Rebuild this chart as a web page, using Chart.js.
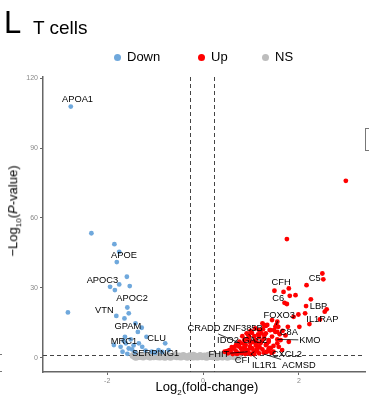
<!DOCTYPE html>
<html lang="en">
<head>
<meta charset="UTF-8">
<title>T cells volcano</title>
<script src="https://cdn.jsdelivr.net/npm/chart.js"></script>
<style>
  body { margin: 0; background: #fff; font-family: "Liberation Sans", Arial, sans-serif; }
  #wrap { position: relative; width: 369px; height: 402px; overflow: hidden; }
  #wrap canvas { position: absolute; left: 0; top: 0; }
  .txt { position: absolute; white-space: nowrap; color: #000; }
  .dot { position: absolute; width: 7px; height: 7px; border-radius: 50%; }
</style>
</head>
<body>
<div id="wrap">
  <canvas id="volcano" width="369" height="402"></canvas>
  <div class="txt" style="left:4px; top:5px; font-size:31px; line-height:36px;">L</div>
  <div class="txt" style="left:33px; top:16px; font-size:19px; line-height:24px;">T cells</div>

  <div class="dot" style="left:114px; top:54px; background:#6fa8dc;"></div>
  <div class="txt" style="left:127px; top:49px; font-size:13px; line-height:16px;">Down</div>
  <div class="dot" style="left:198px; top:54px; background:#ff0000;"></div>
  <div class="txt" style="left:211px; top:49px; font-size:13px; line-height:16px;">Up</div>
  <div class="dot" style="left:262px; top:54px; background:#bdbdbd;"></div>
  <div class="txt" style="left:275px; top:49px; font-size:13px; line-height:16px;">NS</div>

  <div class="txt" style="left:16px; top:211px; font-size:13px; line-height:16px; transform:translate(-50%,-50%) rotate(-90deg);">&minus;Log<sub style="font-size:8px;">10</sub>(<i>P</i>-value)</div>
  <div class="txt" style="left:207px; top:390px; font-size:13px; line-height:16px; transform:translate(-50%,-50%);">Log<sub style="font-size:8px;">2</sub>(fold-change)</div>

  <div style="position:absolute; left:365px; top:128px; width:10px; height:21px; border:1.5px solid #777;"></div>
  <div style="position:absolute; left:0; top:354px; width:2px; height:1px; background:#777;"></div>
  <div style="position:absolute; left:0; top:371px; width:2px; height:1px; background:#777;"></div>
</div>

<script>
// ---------------- data ----------------
const downX = [-2.76, -2.33, -1.85, -1.75, -1.80, -1.59, -1.75, -1.94, -1.84, -1.53,
               -1.58, -2.82, -1.81, -1.64, -1.55, -1.41, -1.36, -1.18, -1.28, -1.63,
               -1.51, -1.86, -1.72, -1.61, -1.55, -1.68, -1.48, -1.34, -1.27, -0.79,
               -0.93, -0.72, -1.07, -1.58, -1.42, -1.20, -1.00, -0.85, -1.45, -1.66];
const downY = [107.8, 53.4, 48.7, 45.4, 41.0, 34.7, 31.4, 30.4, 29.0, 30.7,
               21.5, 19.4, 17.9, 16.8, 19.0, 14.7, 11.0, 8.9, 12.8, 8.9,
               7.8, 5.4, 4.6, 6.1, 3.9, 2.5, 3.5, 6.1, 4.6, 6.1,
               3.2, 3.2, 2.5, 1.6, 2.2, 3.0, 2.0, 2.4, 5.2, 7.2];

const upX = [2.98, 1.75, 2.49, 2.51, 2.16, 1.49, 1.79, 1.68, 1.81, 1.93,
             1.70, 1.75, 2.25, 2.15, 2.58, 2.54, 2.44, 2.13, 1.99, 1.89,
             2.22, 2.01, 1.77, 1.57, 1.55, 1.27, 1.41, 1.51, 1.20, 1.79,
             1.62, 1.55, 1.41, 1.47, 1.37, 1.24, 1.31, 1.39, 1.48, 1.55,
             1.17, 1.09, 0.99, 0.91, 0.82, 0.96, 1.07, 1.17, 1.27, 1.37,
             0.76, 0.69, 0.62, 0.55, 0.79, 0.89, 0.99, 1.10, 1.20, 1.31,
             1.37, 1.03, 0.93, 0.82, 0.72, 1.13, 1.24, 0.45, 0.52, 0.62,
             0.96, 1.07, 1.17, 1.27, 0.96, 0.86, 1.10, 1.22, 1.31, 1.51,
             1.44, 1.34, 1.55, 1.53, 0.77, 1.12, 0.93, 1.07, 1.00, 1.43,
             0.66, 0.58, 0.86, 1.00, 1.15, 0.72, 0.88, 1.05,
             0.50, 0.60, 0.68, 0.75, 0.84, 0.90, 0.98, 1.05, 1.12, 1.18,
             1.23, 1.28, 1.33, 1.36, 1.44, 1.47, 0.88, 0.94, 1.02, 1.15,
             1.25, 1.60, 1.66, 1.72, 0.70, 0.80, 1.32, 1.40, 1.58, 1.65];
const upY = [75.9, 50.9, 36.1, 33.6, 31.1, 28.7, 29.7, 28.2, 26.5, 26.8,
             23.5, 23.0, 25.0, 22.1, 20.7, 19.7, 16.4, 19.0, 18.5, 17.5,
             14.4, 13.2, 13.2, 13.2, 15.4, 14.0, 11.8, 11.0, 11.8, 6.8,
             7.5, 6.1, 3.9, 2.5, 6.8, 14.7, 13.6, 11.8, 11.8, 11.0,
             11.8, 12.5, 11.5, 10.4, 9.2, 8.9, 9.2, 8.9, 8.2, 7.5,
             6.8, 5.4, 3.9, 3.2, 3.9, 5.4, 6.1, 5.4, 6.1, 5.4,
             3.9, 3.9, 3.2, 2.5, 2.1, 2.9, 3.5, 2.5, 1.8, 1.5,
             1.8, 1.5, 1.8, 2.1, 7.5, 7.5, 7.5, 10.4, 10.4, 13.2,
             16.1, 14.0, 7.8, 14.0, 6.2, 6.5, 2.5, 2.5, 1.5, 2.0,
             4.6, 2.3, 4.4, 4.0, 4.8, 1.6, 1.5, 2.0,
             2.8, 4.5, 3.0, 4.8, 6.0, 7.8, 4.6, 6.8, 3.6, 4.4,
             7.2, 9.6, 5.8, 2.8, 9.0, 5.0, 3.6, 9.8, 10.6, 10.0,
             12.2, 10.0, 11.5, 9.5, 1.6, 1.9, 2.4, 4.2, 4.6, 3.2];

const nsX = [-1.46, -1.42, -1.38, -1.33, -1.29, -1.25, -1.20, -1.16, -1.12, -1.07,
             -1.03, -0.98, -0.94, -0.90, -0.85, -0.81, -0.77, -0.72, -0.68, -0.63,
             -0.59, -0.55, -0.50, -0.46, -0.41, -0.37, -0.33, -0.28, -0.24, -0.20,
             -0.15, -0.11, -0.06, -0.02, 0.03, 0.07, 0.11, 0.16, 0.20, 0.25,
             0.29, 0.34, 0.38, 0.42, 0.47, 0.51, 0.56, 0.60, 0.65, 0.69,
             0.74, -1.40, -1.10, -0.80, -0.50, -0.20, 0.10, 0.40, 0.62, -0.95,
             -1.35, -1.05, -0.75, -0.45, -0.15, 0.15, 0.45, 0.70, -0.60, 0.30];
const nsY = [0.9, 0.3, 1.1, 0.5, 0.8, 0.2, 1.0, 0.6, 0.3, 0.9,
             0.4, 1.1, 0.7, 0.2, 0.5, 1.0, 0.3, 0.8, 0.1, 0.6,
             1.1, 0.4, 0.7, 0.2, 0.9, 0.5, 0.1, 0.8, 0.3, 1.0,
             0.6, 0.2, 0.9, 0.4, 0.7, 0.1, 1.0, 0.5, 0.3, 0.8,
             0.2, 0.6, 1.0, 0.4, 0.7, 0.1, 0.5, 0.9, 0.3, 0.6,
             0.2, 0.1, 0.2, 0.1, 0.3, 0.2, 0.3, 0.2, 0.9, 0.4,
             0.6, 0.7, 0.5, 0.6, 0.4, 0.7, 0.5, 0.8, 0.9, 0.1];

const yTicks = [0, 30, 60, 90, 120];
const xTicks = [-2, 0, 2];

// genes with labels: name, point (x, y)
const geneNames = ['APOA1', 'APOE', 'APOC3', 'APOC2', 'VTN', 'GPAM', 'MRC1', 'CLU', 'SERPING1',
                   'CRADD', 'ZNF385B', 'IDO2', 'GAS2', 'FHIT', 'CFI', 'IL1R1', 'ACMSD', 'CXCL2',
                   'KMO', 'C8A', 'FOXO3', 'IL1RAP', 'LBP', 'C6', 'CFH', 'C5'];
const geneX = [-2.76, -1.75, -1.94, -1.53, -1.81, -1.41, -1.63, -1.18, -0.93,
               0.77, 1.12, 0.58, 1.07, 0.93, 1.07, 1.00, 1.27, 1.43,
               1.55, 1.55, 1.53, 2.44, 2.15, 1.70, 1.68, 2.49];
const geneY = [107.8, 45.4, 30.4, 30.7, 17.9, 14.7, 8.9, 8.9, 3.2,
               6.2, 6.5, 2.3, 2.5, 2.5, 2.5, 1.5, 1.5, 2.0,
               7.8, 6.1, 14.0, 16.4, 22.1, 23.5, 28.2, 36.1];

// label placement (label centre, data units) and whether a leader line is drawn
const labelX = [-2.62, -1.65, -2.10, -1.48, -2.06, -1.57, -1.65, -0.97, -0.99,
                0.02, 0.83, 0.52, 1.08, 0.33, 0.82, 1.28, 2.00, 1.75,
                2.23, 1.79, 1.59, 2.49, 2.41, 1.57, 1.63, 2.33];
const labelY = [110.9, 44.0, 33.3, 25.5, 20.4, 13.5, 7.1, 8.4, 1.9,
                12.7, 12.7, 7.5, 7.5, 1.5, -1.1, -3.2, -3.2, 1.5,
                7.5, 10.9, 18.2, 16.5, 22.1, 25.5, 32.4, 34.1];
const labelLine = [0, 0, 0, 0, 0, 0, 0, 0, 0,
                   1, 1, 0, 0, 1, 1, 1, 1, 1,
                   1, 0, 1, 0, 0, 0, 0, 0];

// ---------------- chart ----------------
const toPoints = (xs, ys) => xs.map((x, i) => ({ x: x, y: ys[i] }));

const cutoffs = {
    id: 'cutoffs',
    beforeDatasetsDraw(chart) {
        const { ctx, chartArea, scales } = chart;
        ctx.save();
        ctx.strokeStyle = '#444';
        ctx.lineWidth = 1;
        ctx.setLineDash([4, 3]);
        [-0.27, 0.23].forEach(v => {
            const px = Math.round(scales.x.getPixelForValue(v)) + 0.5;
            ctx.beginPath();
            ctx.moveTo(px, chartArea.top);
            ctx.lineTo(px, chartArea.bottom);
            ctx.stroke();
        });
        const py = Math.round(scales.y.getPixelForValue(1.3)) + 0.5;
        ctx.beginPath();
        ctx.moveTo(chartArea.left, py);
        ctx.lineTo(chartArea.right, py);
        ctx.stroke();
        ctx.restore();
    }
};

const geneLabels = {
    id: 'geneLabels',
    afterDatasetsDraw(chart) {
        const { ctx, scales } = chart;
        ctx.save();
        ctx.font = '9.3px "Liberation Sans", Arial, sans-serif';
        ctx.textAlign = 'center';
        ctx.textBaseline = 'middle';
        geneNames.forEach((name, i) => {
            const lx = scales.x.getPixelForValue(labelX[i]);
            const ly = scales.y.getPixelForValue(labelY[i]);
            if (labelLine[i]) {
                const gx = scales.x.getPixelForValue(geneX[i]);
                const gy = scales.y.getPixelForValue(geneY[i]);
                const hw = ctx.measureText(name).width / 2 + 1;
                const hh = 6;
                const dx = gx - lx, dy = gy - ly;
                const t = Math.min(dx !== 0 ? hw / Math.abs(dx) : Infinity,
                                   dy !== 0 ? hh / Math.abs(dy) : Infinity);
                if (t < 1) {
                    ctx.strokeStyle = '#000';
                    ctx.lineWidth = 0.8;
                    ctx.beginPath();
                    ctx.moveTo(lx + dx * t, ly + dy * t);
                    ctx.lineTo(gx, gy);
                    ctx.stroke();
                }
            }
            ctx.fillStyle = '#000';
            ctx.fillText(name, lx, ly);
        });
        ctx.restore();
    }
};

const noPad = s => { s.paddingLeft = 0; s.paddingRight = 0; s.paddingTop = 0; s.paddingBottom = 0; };

new Chart(document.getElementById('volcano'), {
    type: 'scatter',
    data: {
        datasets: [
            { label: 'Up', data: toPoints(upX, upY), backgroundColor: '#ff0000', pointRadius: 2.4, pointBorderWidth: 0 },
            { label: 'Down', data: toPoints(downX, downY), backgroundColor: '#6fa8dc', pointRadius: 2.4, pointBorderWidth: 0 },
            { label: 'NS', data: toPoints(nsX, nsY), backgroundColor: '#bdbdbd', pointRadius: 3.5, pointBorderWidth: 0 }
        ]
    },
    options: {
        responsive: false,
        animation: false,
        layout: { padding: { top: 77, left: 0, right: 0, bottom: 0 } },
        plugins: { legend: { display: false }, tooltip: { enabled: false } },
        scales: {
            x: {
                type: 'linear',
                min: -3.34,
                max: 3.38,
                afterBuildTicks: s => { s.ticks = xTicks.map(v => ({ value: v })); },
                afterFit: s => { s.height = 30; noPad(s); },
                border: { color: '#666', width: 1.5 },
                grid: { drawOnChartArea: false, drawTicks: true, tickLength: 3, color: '#666' },
                ticks: { color: '#888', font: { size: 7, family: '"Liberation Sans", Arial' }, padding: 2, maxRotation: 0 }
            },
            y: {
                type: 'linear',
                min: -6.2,
                max: 120.5,
                afterBuildTicks: s => { s.ticks = yTicks.map(v => ({ value: v })); },
                afterFit: s => { s.width = 43; noPad(s); },
                border: { color: '#666', width: 1.5 },
                grid: { drawOnChartArea: false, drawTicks: true, tickLength: 3, color: '#666' },
                ticks: { color: '#888', font: { size: 7, family: '"Liberation Sans", Arial' }, padding: 2 }
            }
        }
    },
    plugins: [cutoffs, geneLabels]
});
</script>
</body>
</html>
